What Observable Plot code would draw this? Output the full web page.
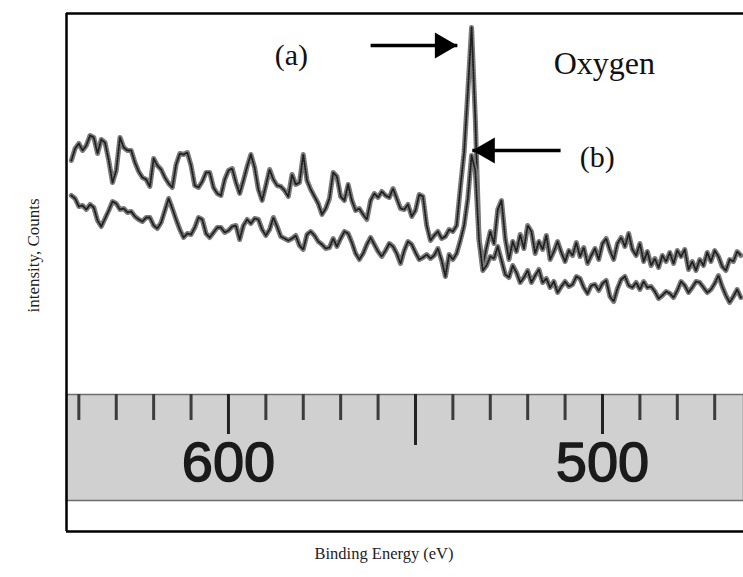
<!DOCTYPE html>
<html><head><meta charset="utf-8">
<script src="https://cdn.jsdelivr.net/npm/d3@7"></script>
<script src="https://cdn.jsdelivr.net/npm/@observablehq/plot@0.6"></script>
<style>html,body{margin:0;padding:0;background:#fff;overflow:hidden;} svg{display:block;}</style>
</head><body><div id="chart"></div>
<script>
// Binding energy grid (eV), read every 1 eV from 642 down to 463
const energy = [
642,641,640,639,638,637,636,635,634,633,
632,631,630,629,628,627,626,625,624,623,
622,621,620,619,618,617,616,615,614,613,
612,611,610,609,608,607,606,605,604,603,
602,601,600,599,598,597,596,595,594,593,
592,591,590,589,588,587,586,585,584,583,
582,581,580,579,578,577,576,575,574,573,
572,571,570,569,568,567,566,565,564,563,
562,561,560,559,558,557,556,555,554,553,
552,551,550,549,548,547,546,545,544,543,
542,541,540,539,538,537,536,535,534,533,
532,531,530,529,528,527,526,525,524,523,
522,521,520,519,518,517,516,515,514,513,
512,511,510,509,508,507,506,505,504,503,
502,501,500,499,498,497,496,495,494,493,
492,491,490,489,488,487,486,485,484,483,
482,481,480,479,478,477,476,475,474,473,
472,471,470,469,468,467,466,465,464,463];

// Intensity (arbitrary counts), spectrum (a)
const countsA = [
371,383,388,381,386,396,394,378,392,389,
371,349,361,394,384,381,381,369,360,354,
352,345,373,366,362,354,348,344,367,378,
377,379,366,346,344,350,359,359,344,338,
336,352,361,363,349,338,351,365,377,364,
342,331,346,362,352,346,345,341,335,357,
347,349,377,351,342,335,328,317,323,333,
359,355,335,331,347,331,321,323,317,312,
331,338,334,340,336,334,343,333,323,322,
327,315,321,337,335,306,291,296,300,293,
295,302,300,306,344,379,440,504,413,293,
266,284,300,288,322,331,293,272,290,280,
297,283,306,300,278,290,282,296,272,280,
290,279,270,281,276,289,275,284,268,276,
283,272,288,293,281,272,288,294,285,298,
282,276,288,270,280,266,273,264,276,270,
279,268,281,275,282,262,270,261,272,266,
279,270,281,275,265,261,272,270,280,276];

// Intensity (arbitrary counts), spectrum (b)
const countsB = [
336,333,325,326,322,327,324,311,305,313,
321,330,328,322,323,319,320,315,312,310,
314,314,306,303,309,321,333,323,312,302,
294,298,297,304,314,312,298,294,299,304,
304,299,301,305,306,292,306,312,308,313,
312,302,296,302,314,305,295,293,291,293,
296,286,282,297,300,296,290,287,283,284,
293,285,293,300,298,289,278,272,278,287,
294,287,280,275,281,288,285,278,268,281,
290,287,279,272,274,277,273,276,283,271,
255,277,272,278,291,306,333,376,361,291,
261,266,275,273,285,271,257,254,266,259,
249,254,261,249,256,262,249,253,244,250,
239,245,250,245,247,255,253,244,238,246,
247,241,248,251,235,230,243,252,255,246,
244,249,242,250,244,245,240,233,236,240,
238,234,241,250,246,239,244,250,249,244,
239,242,248,256,245,236,229,235,242,234];

const xDomain = [643.3, 462.3];
const yDomain = [0, 518];
const minorTicks = [640,630,620,610,590,580,570,560,540,530,520,510,490,480,470];
const majorTicks = [600, 500];
const midTicks = [550];
const tickLabels = ["600", "500"];

const annLabels = ["(a)", "(b)", "Oxygen"];
const annEnergy = [583.2, 501.4, 499.5];
const annCounts = [476, 374, 468];
const annSize = [30, 30, 32];

// arrows: (a) points right to the top of the peak, (b) points left to its lower maximum
const arrowTail = [562.0, 511.2];
const arrowTip = [538.8, 534.8];
const arrowCounts = [486, 381];

const xLabel = "Binding Energy (eV)";
const yLabel = "intensity, Counts";

const seriesA = energy.map((e, i) => ({e, c: countsA[i]}));
const seriesB = energy.map((e, i) => ({e, c: countsB[i]}));
const ann = annLabels.map((t, i) => ({t, e: annEnergy[i], c: annCounts[i], s: annSize[i]}));
const arrows = arrowTip.map((t, i) => ({x1: arrowTail[i], x2: t, c: arrowCounts[i]}));

const serif = "'Liberation Serif', 'Times New Roman', serif";

const lineMarks = (data) => [
  Plot.line(data, {x: "e", y: "c", stroke: "#7a7a7a", strokeWidth: 5, strokeLinejoin: "round"}),
  Plot.line(data, {x: "e", y: "c", stroke: "#1e1e1e", strokeWidth: 1.8, strokeDasharray: "1.2,1.5", strokeLinejoin: "round"})
];

const chart = Plot.plot({
  width: 743,
  height: 577,
  marginTop: 13,
  marginBottom: 46,
  marginLeft: 66,
  marginRight: 0,
  x: {domain: xDomain, axis: null},
  y: {domain: yDomain, axis: null},
  style: {background: "#fff"},
  marks: [
    // ruler band with ticks and numbers
    Plot.frame({fill: "#d0d0d0", stroke: "#6e6e6e", strokeWidth: 1.5, insetTop: 381, insetBottom: 31}),
    Plot.ruleX(minorTicks, {stroke: "#3c3c3c", strokeWidth: 3, insetTop: 381, insetBottom: 111}),
    Plot.ruleX(majorTicks, {stroke: "#222", strokeWidth: 3, insetTop: 381, insetBottom: 97}),
    Plot.ruleX(midTicks, {stroke: "#222", strokeWidth: 3, insetTop: 381, insetBottom: 86}),
    Plot.text(majorTicks, {x: d => d, text: (d, i) => tickLabels[i], frameAnchor: "bottom", lineAnchor: "middle", dy: -68,
      fontSize: 56, fontFamily: "'Liberation Sans', Arial, sans-serif", fill: "#1a1a1a",
      stroke: "#1a1a1a", strokeWidth: 1.4}),
    // spectra
    ...lineMarks(seriesA),
    ...lineMarks(seriesB),
    // frame (left, top, bottom)
    Plot.ruleX([xDomain[0]], {stroke: "#000", strokeWidth: 2.5}),
    Plot.ruleY(yDomain, {stroke: "#000", strokeWidth: 2.5}),
    // annotations
    Plot.link(arrows, {x1: "x1", x2: "x2", y1: "c", y2: "c", stroke: "#000", strokeWidth: 3.5}),
    Plot.dot([arrows[0]], {x: "x2", y: "c", symbol: "triangle", r: 9.6, fill: "#000", stroke: null, rotate: 90, dx: -15}),
    Plot.dot([arrows[1]], {x: "x2", y: "c", symbol: "triangle", r: 9.6, fill: "#000", stroke: null, rotate: -90, dx: 15}),
    Plot.text(ann, {x: "e", y: "c", text: "t", fontSize: "s", fontFamily: serif, fill: "#111"}),
    // axis labels
    Plot.text([xLabel], {frameAnchor: "bottom", dy: 27, dx: -21, fontSize: 16.5, fontFamily: serif, fill: "#222"}),
    Plot.text([yLabel], {frameAnchor: "left", textAnchor: "middle", dx: -33, dy: -17, rotate: -90,
      fontSize: 17, fontFamily: serif, fill: "#222"})
  ]
});
document.getElementById("chart").appendChild(chart);
</script>
</body></html>
